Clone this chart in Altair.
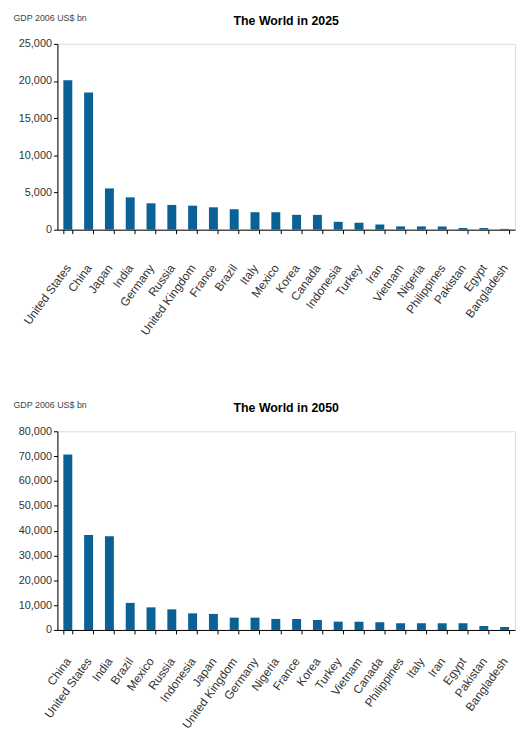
import altair as alt
import pandas as pd

countries_2025 = ["United States", "China", "Japan", "India", "Germany", "Russia",
                  "United Kingdom", "France", "Brazil", "Italy", "Mexico", "Korea",
                  "Canada", "Indonesia", "Turkey", "Iran", "Vietnam", "Nigeria",
                  "Philippines", "Pakistan", "Egypt", "Bangladesh"]
gdp_2025 = [20100, 18450, 5550, 4350, 3550, 3330, 3230, 3010, 2750, 2350, 2350,
            2000, 1990, 1060, 930, 700, 440, 440, 440, 220, 220, 110]

countries_2050 = ["China", "United States", "India", "Brazil", "Mexico", "Russia",
                  "Indonesia", "Japan", "United Kingdom", "Germany", "Nigeria",
                  "France", "Korea", "Turkey", "Vietnam", "Canada", "Philippines",
                  "Italy", "Iran", "Egypt", "Pakistan", "Bangladesh"]
gdp_2050 = [70700, 38200, 37700, 10900, 9100, 8300, 6700, 6450, 4950, 4950, 4450,
            4400, 4000, 3350, 3350, 3100, 2700, 2700, 2700, 2700, 1600, 1200]

y_ticks_2025 = [0, 5000, 10000, 15000, 20000, 25000]
y_ticks_2050 = [0, 10000, 20000, 30000, 40000, 50000, 60000, 70000, 80000]

BAR = "#0A6195"
FONT = "Liberation Sans, Arial, sans-serif"


def panel(countries, values, ticks, ymax, title, h, pad):
    df = pd.DataFrame({"country": countries, "gdp": values})
    return alt.Chart(df).mark_bar(color=BAR).encode(
        x=alt.X("country:N", sort=countries, title=None,
                scale=alt.Scale(paddingInner=0.57, paddingOuter=0.285),
                axis=alt.Axis(labelAngle=306, labelAlign="right", labelBaseline="middle",
                              labelFont=FONT, labelFontSize=12,
                              labelColor="#333333", labelPadding=pad,
                              tickBand="extent", tickSize=4, tickColor="black",
                              domainColor="black")),
        y=alt.Y("gdp:Q", title="GDP 2006 US$ bn",
                scale=alt.Scale(domain=[0, ymax], nice=False),
                axis=alt.Axis(values=ticks, format=",.0f", grid=False,
                              labelFont=FONT, labelFontSize=11, labelColor="#333333",
                              tickSize=4, tickColor="black", domainColor="black",
                              titleAngle=0, titleAlign="left", titleBaseline="middle",
                              titleX=-45, titleY=-27, titleFont=FONT,
                              titleFontSize=9, titleFontWeight="normal",
                              titleColor="#444444")),
    ).properties(
        width=463, height=h,
        title=alt.TitleParams(title, frame="group", anchor="middle", offset=-24,
                              baseline="alphabetic", font=FONT, fontSize=12.5,
                              fontWeight="bold", color="black"),
    )


c1 = panel(countries_2025, gdp_2025, y_ticks_2025, 25000, "The World in 2025", 188, 32)
c2 = panel(countries_2050, gdp_2050, y_ticks_2050, 80000, "The World in 2050", 201, 25)

chart = alt.vconcat(c1, c2, spacing=62).properties(
    padding={"left": 4, "top": 0, "right": 0, "bottom": 0}
).configure_view(stroke="black", strokeWidth=1).configure(background="white")

chart.save("out.html", embed_options={"renderer": "svg", "actions": False})
